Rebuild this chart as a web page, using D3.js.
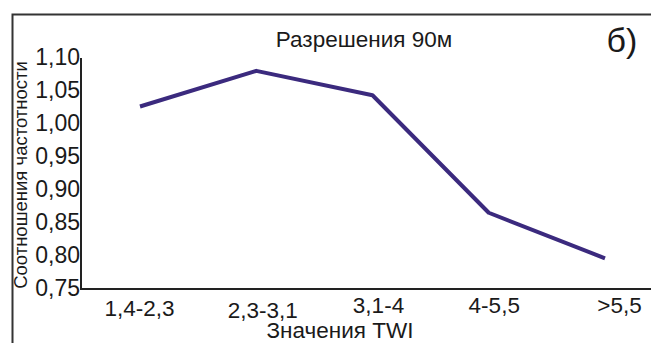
<!DOCTYPE html>
<html>
<head>
<meta charset="utf-8">
<script src="https://cdn.jsdelivr.net/npm/d3@7"></script>
<style>
  html, body { margin: 0; padding: 0; background: #fff; }
  svg { display: block; }
  text { font-family: "Liberation Sans", Arial, sans-serif; fill: #1a1a1a; }
</style>
</head>
<body>
<script>
// TWI classes and the frequency ratio for each at 90 m resolution
const categories = ["1,4-2,3", "2,3-3,1", "3,1-4", "4-5,5", ">5,5"];
const ratios = [1.025, 1.079, 1.042, 0.864, 0.795];
const yTicks = [0.75, 0.80, 0.85, 0.90, 0.95, 1.00, 1.05, 1.10];
// small offsets of the category labels
const labelShift = [3, 5, 0, 0, 0];
const labelNudge = [-1, 6, 5.5, 5, 14];

const W = 651, H = 343;
const svg = d3.select("body").append("svg").attr("width", W).attr("height", H);

// outer frame (runs off the right and bottom edges)
svg.append("path")
  .attr("d", `M12.5,${H + 5}V14.5H${W + 5}`)
  .attr("fill", "none").attr("stroke", "#333").attr("stroke-width", 2);

const x = d3.scalePoint().domain(categories).range([140, 605]);
const y = d3.scaleLinear().domain([0.75, 1.10]).range([288, 57]);

const fmt = d => d3.format(".2f")(d).replace(".", ",");

// y axis
const yAxis = d3.axisLeft(y).tickValues(yTicks).tickFormat(fmt).tickSize(0).tickPadding(1);
const gy = svg.append("g").attr("transform", "translate(81,0)").call(yAxis);
gy.select(".domain").attr("d", "M0,58V290").attr("stroke", "#222").attr("stroke-width", 2);
gy.selectAll("text").attr("font-size", 23).attr("fill", "#1a1a1a")
  .attr("font-family", "Liberation Sans, Arial, sans-serif");

// x axis
const xAxis = d3.axisBottom(x).tickSize(0).tickPadding(8);
const gx = svg.append("g").attr("transform", "translate(0,289)").call(xAxis);
gx.select(".domain").attr("d", `M80,0H${W + 5}`).attr("stroke", "#222").attr("stroke-width", 2);
gx.selectAll(".tick text").attr("font-size", 22.5).attr("fill", "#1a1a1a")
  .attr("font-family", "Liberation Sans, Arial, sans-serif")
  .attr("dy", (d, i) => (0.71 + labelShift[i] / 22.5) + "em")
  .attr("dx", (d, i) => labelNudge[i]);

// the ratio curve
const line = d3.line().x((d, i) => x(categories[i])).y(d => y(d));
svg.append("path").datum(ratios)
  .attr("d", line)
  .attr("fill", "none").attr("stroke", "#3b2a7e").attr("stroke-width", 4)
  .attr("stroke-linejoin", "round");

// titles
svg.append("text").attr("x", 364).attr("y", 47).attr("text-anchor", "middle")
  .attr("font-size", 22.5).text("Разрешения 90м");
svg.append("text").attr("x", 622).attr("y", 52).attr("text-anchor", "middle")
  .attr("font-size", 34).text("б)");
svg.append("text").attr("x", 340).attr("y", 338).attr("text-anchor", "middle")
  .attr("font-size", 22.5).text("Значения TWI");
svg.append("text").attr("transform", "translate(27,175) rotate(-90)")
  .attr("text-anchor", "middle").attr("font-size", 18.5).text("Соотношения частотности");
</script>
</body>
</html>
